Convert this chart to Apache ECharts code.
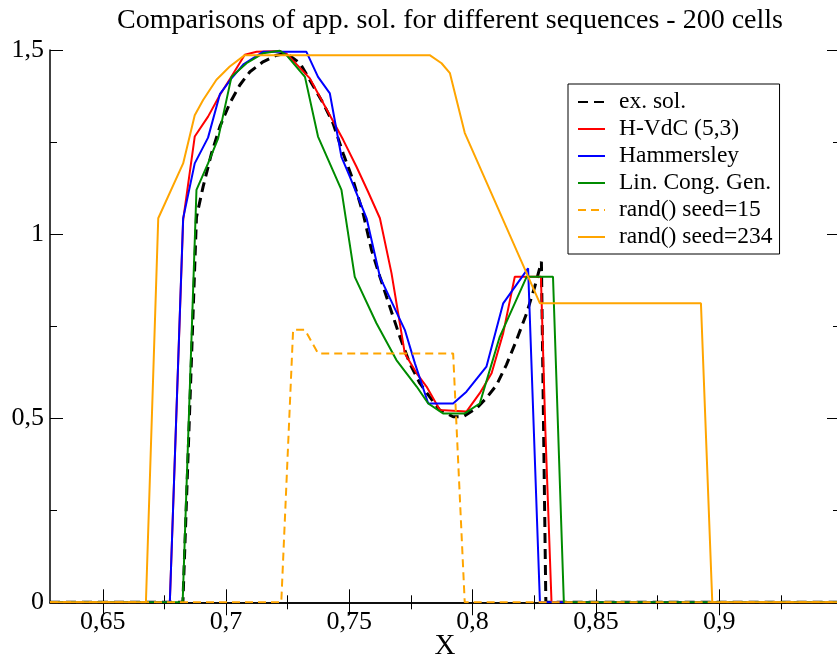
<!DOCTYPE html>
<html><head><meta charset="utf-8">
<script src="https://cdn.jsdelivr.net/npm/echarts@6/dist/echarts.min.js"></script>
<style>html,body{margin:0;padding:0;background:#fff}#c{width:837px;height:658px}</style>
</head><body><div id="c"></div>
<script>
const X_MIN = 0.6286, X_MAX = 0.949;
const Y_MIN = 0, Y_MAX = 1.5;
const xMajorTicks = [0.65, 0.7, 0.75, 0.8, 0.85, 0.9];
const xMinorTicks = [0.675, 0.725, 0.775, 0.825, 0.875, 0.925];
const yMajorTicks = [0, 0.5, 1, 1.5];
const yMinorTicks = [0.25, 0.75, 1.25];

const seriesNames = ['ex. sol.', 'H-VdC (5,3)', 'Hammersley', 'Lin. Cong. Gen.', 'rand() seed=15', 'rand() seed=234'];

const exSolX = [0.6286, 0.6825, 0.688, 0.6907, 0.6941, 0.6975, 0.7015, 0.7056, 0.7097, 0.715, 0.7205, 0.7245, 0.73, 0.734, 0.7394, 0.7434, 0.7475, 0.7515, 0.7556, 0.759, 0.7624, 0.7664, 0.7705, 0.7745, 0.7786, 0.7826, 0.7867, 0.7921, 0.7961, 0.8016, 0.8056, 0.8097, 0.8137, 0.8178, 0.8219, 0.8252, 0.8279, 0.8297, 0.949];
const exSolY = [0, 0, 1.046, 1.129, 1.219, 1.292, 1.355, 1.405, 1.441, 1.468, 1.486, 1.491, 1.464, 1.418, 1.355, 1.301, 1.219, 1.147, 1.056, 0.957, 0.884, 0.803, 0.721, 0.649, 0.595, 0.558, 0.522, 0.504, 0.504, 0.527, 0.555, 0.59, 0.645, 0.712, 0.785, 0.857, 0.925, 0, 0];

const hvdcX = [0.6286, 0.6772, 0.6826, 0.6873, 0.6927, 0.6975, 0.7022, 0.7076, 0.7124, 0.7218, 0.7245, 0.734, 0.7373, 0.7421, 0.7475, 0.7529, 0.7576, 0.7624, 0.7671, 0.7698, 0.7725, 0.7773, 0.7813, 0.7867, 0.7975, 0.8029, 0.8077, 0.8124, 0.8171, 0.8277, 0.8295, 0.832, 0.949];
const hvdcY = [0, 0, 1.038, 1.265, 1.319, 1.378, 1.428, 1.487, 1.495, 1.497, 1.49, 1.423, 1.382, 1.323, 1.256, 1.183, 1.115, 1.043, 0.894, 0.785, 0.676, 0.622, 0.586, 0.522, 0.518, 0.568, 0.622, 0.731, 0.884, 0.884, 0.468, 0, 0];

const hammX = [0.6286, 0.6772, 0.6826, 0.6873, 0.6927, 0.6975, 0.7022, 0.7072, 0.715, 0.7326, 0.7373, 0.7421, 0.7468, 0.7502, 0.757, 0.7624, 0.7725, 0.7766, 0.782, 0.7921, 0.7975, 0.8056, 0.8124, 0.8225, 0.8273, 0.949];
const hammY = [0, 0, 1.043, 1.192, 1.262, 1.38, 1.423, 1.462, 1.495, 1.495, 1.427, 1.382, 1.21, 1.156, 1.043, 0.884, 0.74, 0.649, 0.54, 0.54, 0.572, 0.64, 0.812, 0.907, 0, 0];

const lcgX = [0.6286, 0.6824, 0.688, 0.6927, 0.6968, 0.7022, 0.7083, 0.715, 0.7218, 0.7245, 0.732, 0.7373, 0.7468, 0.7522, 0.761, 0.7691, 0.7773, 0.782, 0.788, 0.7968, 0.8029, 0.811, 0.8219, 0.8326, 0.837, 0.949];
const lcgY = [0, 0, 1.12, 1.192, 1.26, 1.427, 1.464, 1.491, 1.498, 1.486, 1.427, 1.265, 1.12, 0.884, 0.758, 0.658, 0.586, 0.54, 0.513, 0.513, 0.54, 0.721, 0.884, 0.884, 0, 0];

const rand15X = [0.6286, 0.7224, 0.7272, 0.732, 0.7373, 0.7921, 0.7968, 0.949];
const rand15Y = [0, 0, 0.74, 0.74, 0.676, 0.676, 0, 0];

const rand234X = [0.6286, 0.6675, 0.6725, 0.6826, 0.6873, 0.6907, 0.6961, 0.7015, 0.7076, 0.7826, 0.7874, 0.7908, 0.7968, 0.8273, 0.8926, 0.8972, 0.949];
const rand234Y = [0, 0, 1.043, 1.192, 1.323, 1.364, 1.419, 1.455, 1.486, 1.486, 1.464, 1.437, 1.275, 0.812, 0.812, 0, 0];

const FONT = "'Liberation Serif', 'Times New Roman', serif";
const zip = (xs, ys) => xs.map((x, i) => [x, ys[i]]);
const comma = v => String(v).replace('.', ',');

const chart = echarts.init(document.getElementById('c'), null, {renderer: 'canvas'});

const frameLine = {show: true, lineStyle: {color: '#000', width: 1.5}};
function xAx(pos, ticks, len, labels, line) {
  return {
    type: 'value', position: pos, min: X_MIN, max: X_MAX,
    axisLine: line ? frameLine : {show: false},
    axisTick: {show: true, inside: true, length: len, customValues: ticks, lineStyle: {color: '#000', width: 1}},
    axisLabel: labels ? {show: true, customValues: ticks, formatter: comma, fontFamily: FONT, fontSize: 26, color: '#000', margin: 7} : {show: false},
    splitLine: {show: false}
  };
}
function yAx(pos, ticks, len, labels, line) {
  return {
    type: 'value', position: pos, min: Y_MIN, max: Y_MAX,
    axisLine: line ? frameLine : {show: false},
    axisTick: {show: true, inside: true, length: len, customValues: ticks, lineStyle: {color: '#000', width: 1}},
    axisLabel: labels ? {show: true, customValues: ticks, formatter: comma, fontFamily: FONT, fontSize: 26, color: '#000', margin: 6} : {show: false},
    splitLine: {show: false}
  };
}

const xAxes = [
  xAx('bottom', xMajorTicks, 13, true, true),
  xAx('bottom', xMinorTicks, 7, false, false),
  xAx('top', xMajorTicks, 13, false, true),
  xAx('top', xMinorTicks, 7, false, false)
];
xAxes[0].name = 'X';
xAxes[0].nameLocation = 'middle';
xAxes[0].nameGap = 30;
xAxes[0].nameMoveOverlap = false;
xAxes[0].nameTextStyle = {fontFamily: FONT, fontSize: 29, color: '#000'};

const yAxes = [
  yAx('left', yMajorTicks, 13, true, true),
  yAx('left', yMinorTicks, 7, false, false),
  yAx('right', yMajorTicks, 13, false, true),
  yAx('right', yMinorTicks, 7, false, false)
];

const styles = [
  {color: '#000000', width: 3, type: [10, 6]},
  {color: '#ff0000', width: 2, type: 'solid'},
  {color: '#0000ff', width: 2, type: 'solid'},
  {color: '#008b00', width: 2, type: 'solid'},
  {color: '#ffa500', width: 2, type: [8, 5]},
  {color: '#ffa500', width: 2, type: 'solid'}
];
const datas = [zip(exSolX, exSolY), zip(hvdcX, hvdcY), zip(hammX, hammY), zip(lcgX, lcgY), zip(rand15X, rand15Y), zip(rand234X, rand234Y)];

const series = seriesNames.map((n, i) => ({
  name: n, type: 'line', xAxisIndex: 0, yAxisIndex: 0,
  data: datas[i], symbol: 'none', animation: false, clip: true,
  lineStyle: styles[i], itemStyle: {color: styles[i].color}
}));

chart.setOption({
  animation: false,
  backgroundColor: '#fff',
  title: {
    text: 'Comparisons of app. sol. for different sequences - 200 cells',
    left: 445, top: 2, textAlign: 'center',
    textStyle: {fontFamily: FONT, fontSize: 28, fontWeight: 'normal', color: '#000'}
  },
  grid: {left: 50, top: 50, width: 790, height: 552.3, containLabel: false, outerBoundsMode: 'none'},
  legend: {
    orient: 'vertical', left: 568, top: 84,
    padding: [6, 7, 5, 9],
    borderColor: '#000', borderWidth: 1, backgroundColor: '#fff',
    itemWidth: 27, itemHeight: 14, itemGap: 3,
    itemStyle: {opacity: 0, borderWidth: 0},
    data: seriesNames,
    textStyle: {fontFamily: FONT, fontSize: 23.5, color: '#000', lineHeight: 22, padding: [0, 0, 0, 9]}
  },
  xAxis: xAxes,
  yAxis: yAxes,
  series: series
});
</script></body></html>
